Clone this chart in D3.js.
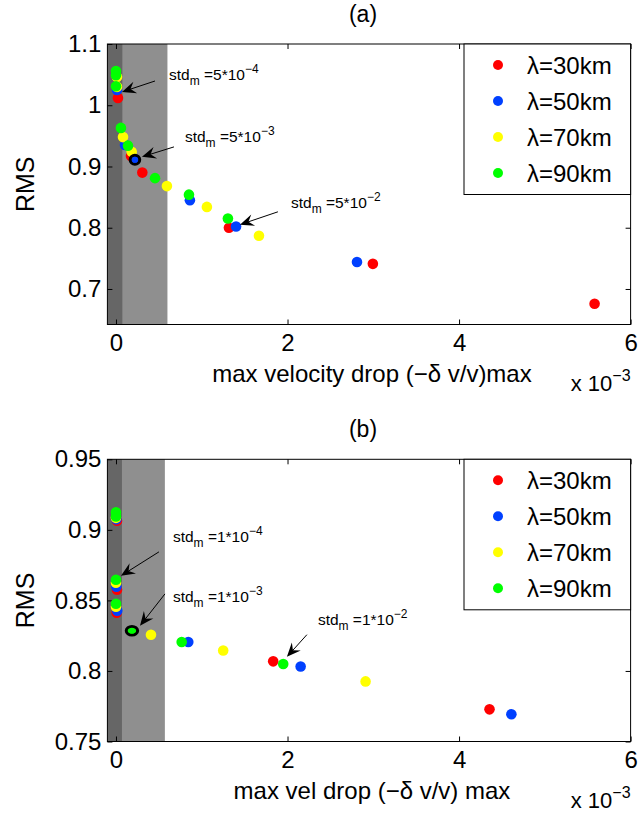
<!DOCTYPE html>
<html>
<head>
<meta charset="utf-8">
<script src="https://cdn.jsdelivr.net/npm/d3@7"></script>
<style>
  body { margin: 0; background: #fff; }
  svg { font-family: "Liberation Sans", Arial, Helvetica, sans-serif; }
</style>
</head>
<body>
<svg id="chart" width="639" height="819"></svg>
<script>
// series shared by both panels
const seriesNames = ['λ=30km', 'λ=50km', 'λ=70km', 'λ=90km'];
const seriesColors = ['#ff0000', '#0040ff', '#ffff00', '#00ff00'];

// x values are in units of 1e-3
const xTicks = [0, 2, 4, 6];

// panel (a)
const aRed = [[0.023, 1.012], [0.175, 0.917], [0.307, 0.890], [1.317, 0.800], [2.995, 0.741], [5.58, 0.676]];
const aBlue = [[0.012, 1.025], [0.105, 0.935], [0.862, 0.845], [1.40, 0.802], [2.81, 0.744]];
const aYellow = [[0.012, 1.046], [0.012, 1.030], [0.082, 0.948], [0.183, 0.924], [0.594, 0.868], [1.06, 0.834], [1.667, 0.787]];
const aGreen = [[0.0, 1.056], [0.0, 1.049], [0.0, 1.031], [0.058, 0.963], [0.14, 0.934], [0.455, 0.881], [0.851, 0.854], [1.305, 0.815]];
const aRing = [0.221, 0.911, 1]; // x, y, series index
const aYTicks = [0.7, 0.8, 0.9, 1, 1.1];
const aYTickLabels = ['0.7', '0.8', '0.9', '1', '1.1'];
const aShade = [0.08, 0.6]; // dark band end, light band end
// [text x, text y, exponent, arrow from x, from y, tip x, tip y]
const aNotes = [
    [0.618, 1.0413, '−4', 0.455, 1.0396, 0.07, 1.0217],
    [0.804, 0.940, '−3', 0.676, 0.932, 0.303, 0.9157],
    [2.04, 0.8325, '−2', 1.888, 0.826, 1.445, 0.805]
];

// panel (b)
const bRed = [[0.012, 0.9065], [0.012, 0.8575], [0.008, 0.8413], [1.833, 0.8068], [4.355, 0.7728]];
const bBlue = [[0.005, 0.9075], [0.005, 0.8597], [0.015, 0.8427], [0.843, 0.8205], [2.153, 0.8032], [4.61, 0.7693]];
const bYellow = [[0.0, 0.9085], [0.0, 0.8625], [0.0, 0.8455], [0.408, 0.8257], [1.25, 0.8145], [2.91, 0.7926]];
const bGreen = [[0.0, 0.9125], [0.0, 0.9095], [0.0, 0.8646], [0.0, 0.8476], [0.766, 0.8205], [1.95, 0.8049]];
const bRing = [0.186, 0.8285, 3];
const bYTicks = [0.75, 0.8, 0.85, 0.9, 0.95];
const bYTickLabels = ['0.75', '0.8', '0.85', '0.9', '0.95'];
const bShade = [0.07, 0.57];
const bNotes = [
    [0.664, 0.8915, '−4', 0.501, 0.8844, 0.058, 0.8674],
    [0.664, 0.8490, '−3', 0.571, 0.8546, 0.28, 0.832],
    [2.354, 0.8327, '−2', 2.226, 0.8257, 1.993, 0.810]
];

const svg = d3.select('#chart');
const LEFT = 107.4, RIGHT = 630.6;
const x = d3.scaleLinear().domain([-0.1, 6]).range([LEFT, RIGHT]);

const panels = [
    {
        tag: '(a)', top: 44, bottom: 324.5, yDomain: [0.642, 1.1],
        series: [aRed, aBlue, aYellow, aGreen], ring: aRing, ringRx: 4.8, ringRy: 4.6,
        yTicks: aYTicks, yTickLabels: aYTickLabels, shade: aShade, notes: aNotes,
        noteBase: '5*10', xLabel: 'max velocity drop (−δ v/v)max'
    },
    {
        tag: '(b)', top: 459.3, bottom: 741.5, yDomain: [0.75, 0.95],
        series: [bRed, bBlue, bYellow, bGreen], ring: bRing, ringRx: 5.7, ringRy: 4.3,
        yTicks: bYTicks, yTickLabels: bYTickLabels, shade: bShade, notes: bNotes,
        noteBase: '1*10', xLabel: 'max vel drop (−δ v/v) max'
    }
];

const drawArrow = (g, x1, y1, x2, y2) => {
    const ang = Math.atan2(y2 - y1, x2 - x1);
    g.append('line')
        .attr('x1', x1).attr('y1', y1)
        .attr('x2', x2 - 8 * Math.cos(ang)).attr('y2', y2 - 8 * Math.sin(ang))
        .attr('stroke', '#000').attr('stroke-width', 1);
    g.append('path')
        .attr('d', 'M0,0L-14,-6L-9,0L-14,6Z')
        .attr('fill', '#000')
        .attr('transform', `translate(${x2},${y2}) rotate(${ang * 180 / Math.PI})`);
};

const drawPanel = (p) => {
    const y = d3.scaleLinear().domain(p.yDomain).range([p.bottom, p.top]);
    const g = svg.append('g');
    const h = p.bottom - p.top;

    // shaded bands
    g.append('rect').attr('x', x(-0.1)).attr('y', p.top)
        .attr('width', x(p.shade[0]) - x(-0.1)).attr('height', h).attr('fill', '#666666');
    g.append('rect').attr('x', x(p.shade[0])).attr('y', p.top)
        .attr('width', x(p.shade[1]) - x(p.shade[0])).attr('height', h).attr('fill', '#8f8f8f');

    // axes (ticks point inward)
    const xAxis = g.append('g').attr('transform', `translate(0,${p.bottom})`)
        .call(d3.axisBottom(x).tickValues(xTicks).tickFormat(d3.format('d'))
            .tickSizeInner(-5).tickSizeOuter(0).tickPadding(9));
    g.append('g').attr('transform', `translate(0,${p.top})`)
        .call(d3.axisTop(x).tickValues(xTicks).tickFormat('').tickSizeInner(-5).tickSizeOuter(0));
    const yAxis = g.append('g').attr('transform', `translate(${LEFT},0)`)
        .call(d3.axisLeft(y).tickValues(p.yTicks).tickFormat((d, i) => p.yTickLabels[i])
            .tickSizeInner(-5).tickSizeOuter(0).tickPadding(6));
    g.append('g').attr('transform', `translate(${RIGHT},0)`)
        .call(d3.axisRight(y).tickValues(p.yTicks).tickFormat('').tickSizeInner(-5).tickSizeOuter(0));
    g.selectAll('.domain').remove();
    g.selectAll('.tick line').attr('stroke', '#000');
    [xAxis, yAxis].forEach(a => a.selectAll('text')
        .attr('font-size', 24).attr('fill', '#000').attr('font-family', null));

    // frame
    g.append('rect').attr('x', LEFT).attr('y', p.top)
        .attr('width', RIGHT - LEFT).attr('height', h)
        .attr('fill', 'none').attr('stroke', '#000').attr('stroke-width', 1);

    // points, drawn in series order
    p.series.forEach((pts, i) => {
        g.append('g').selectAll('circle').data(pts).join('circle')
            .attr('cx', d => x(d[0])).attr('cy', d => y(d[1]))
            .attr('r', 5.3).attr('fill', seriesColors[i]);
    });
    // highlighted point
    g.append('ellipse').attr('cx', x(p.ring[0])).attr('cy', y(p.ring[1]))
        .attr('rx', p.ringRx).attr('ry', p.ringRy)
        .attr('fill', seriesColors[p.ring[2]]).attr('stroke', '#000').attr('stroke-width', 3);
    g.append('circle').attr('cx', x(p.ring[0])).attr('cy', y(p.ring[1]))
        .attr('r', 3).attr('fill', seriesColors[p.ring[2]]);

    // annotations
    p.notes.forEach(n => {
        const t = g.append('text').attr('x', x(n[0])).attr('y', y(n[1]))
            .attr('font-size', 15.5).attr('fill', '#000');
        t.append('tspan').text('std');
        t.append('tspan').attr('font-size', 12).attr('dy', 5).text('m');
        t.append('tspan').attr('dy', -5).text(' =' + p.noteBase);
        t.append('tspan').attr('font-size', 12).attr('dy', -7).text(n[2]);
        drawArrow(g, x(n[3]), y(n[4]), x(n[5]), y(n[6]));
    });

    // legend
    const lg = g.append('g').attr('transform', `translate(464,${p.top})`);
    lg.append('rect').attr('width', RIGHT - 464).attr('height', 150.5)
        .attr('fill', '#fff').attr('stroke', '#000').attr('stroke-width', 1);
    seriesNames.forEach((name, i) => {
        const ry = 21 + i * 36;
        lg.append('circle').attr('cx', 34).attr('cy', ry).attr('r', 5).attr('fill', seriesColors[i]);
        lg.append('text').attr('x', 63).attr('y', ry + 8.5)
            .attr('font-size', 24).attr('fill', '#000').text(name);
    });

    // labels
    g.append('text').attr('x', (LEFT + RIGHT) / 2 - 6).attr('y', p.top - 22)
        .attr('text-anchor', 'middle').attr('font-size', 23).text(p.tag);
    g.append('text').attr('transform', `translate(34,${(p.top + p.bottom) / 2}) rotate(-90)`)
        .attr('text-anchor', 'middle').attr('font-size', 25).text('RMS');
    g.append('text').attr('x', (LEFT + RIGHT) / 2 + 3).attr('y', p.bottom + 57)
        .attr('text-anchor', 'middle').attr('font-size', 24).text(p.xLabel);
    const ex = g.append('text').attr('x', RIGHT).attr('y', p.bottom + 66)
        .attr('text-anchor', 'end').attr('font-size', 22);
    ex.append('tspan').text('x 10');
    ex.append('tspan').attr('font-size', 16).attr('dy', -10).text('−3');
};

panels.forEach(drawPanel);
</script>
</body>
</html>
